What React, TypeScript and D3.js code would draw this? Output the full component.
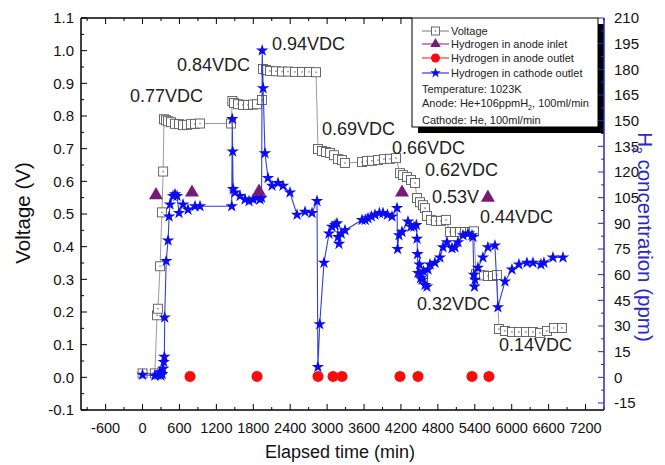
import React from 'react';
import * as d3 from 'd3';

// ---------------- data ----------------
const xTickValues = [-600, 0, 600, 1200, 1800, 2400, 3000, 3600, 4200, 4800, 5400, 6000, 6600, 7200];
const leftTickValues = [-0.1, 0.0, 0.1, 0.2, 0.3, 0.4, 0.5, 0.6, 0.7, 0.8, 0.9, 1.0, 1.1];
const rightTickValues = [-15, 0, 15, 30, 45, 60, 75, 90, 105, 120, 135, 150, 165, 180, 195, 210];

// Voltage (V) vs elapsed time (min)
const voltageSeries: [number, number][] = [
  [0, 0.012], [200, 0.012], [236, 0.19], [250, 0.21], [285, 0.34], [315, 0.505], [335, 0.63],
  [349, 0.79], [382, 0.787], [414, 0.784], [463, 0.781], [528, 0.776], [593, 0.775], [658, 0.772],
  [723, 0.773], [788, 0.775], [853, 0.776], [934, 0.777], [1440, 0.777],
  [1460, 0.846], [1487, 0.84], [1552, 0.836], [1633, 0.834], [1714, 0.834], [1796, 0.835], [1861, 0.836], [1942, 0.849],
  [1958, 0.944], [2007, 0.941], [2072, 0.938], [2169, 0.937], [2267, 0.936], [2364, 0.936], [2478, 0.935],
  [2592, 0.935], [2706, 0.935], [2820, 0.934],
  [2852, 0.699], [2917, 0.693], [2982, 0.69], [3047, 0.687], [3112, 0.68], [3177, 0.668], [3242, 0.665], [3291, 0.656],
  [3567, 0.659], [3648, 0.662], [3729, 0.663], [3827, 0.665], [3924, 0.668], [4022, 0.669], [4119, 0.671],
  [4184, 0.625], [4233, 0.619], [4298, 0.613], [4363, 0.604], [4428, 0.595],
  [4461, 0.549], [4509, 0.536], [4558, 0.527], [4591, 0.518],
  [4623, 0.494], [4688, 0.482], [4769, 0.479], [4850, 0.479], [4931, 0.482],
  [4996, 0.445], [5078, 0.445], [5159, 0.445], [5241, 0.445], [5322, 0.445], [5387, 0.447],
  [5419, 0.316], [5484, 0.313], [5549, 0.312], [5614, 0.31], [5695, 0.31], [5760, 0.313],
  [5792, 0.148], [5890, 0.142], [6004, 0.139], [6117, 0.139], [6231, 0.139], [6345, 0.139],
  [6459, 0.136], [6573, 0.142], [6686, 0.151], [6816, 0.151],
];

// Hydrogen in cathode outlet (ppm)
const cathodeOutlet: [number, number][] = [
  [0, 1.5], [200, 1], [250, 1.5], [280, 3], [300, 1], [320, 2], [335, 5], [345, 9], [355, 12],
  [360, 35], [385, 68], [415, 80], [432, 94], [447, 101], [496, 106], [528, 107], [561, 106],
  [593, 96], [658, 101], [739, 98], [853, 100], [934, 100], [1450, 100],
  [1458, 151], [1465, 132], [1472, 110], [1503, 108], [1584, 106], [1666, 104], [1731, 103],
  [1800, 104], [1861, 105], [1909, 104], [1935, 105],
  [1945, 191], [1960, 169], [1990, 131], [2039, 116.5], [2104, 112], [2202, 113.5], [2283, 112],
  [2397, 108], [2511, 95], [2641, 96.7], [2755, 96], [2836, 103],
  [2850, 6], [2880, 31], [2949, 67], [3031, 84], [3079, 88], [3130, 89], [3161, 90], [3177, 82],
  [3193, 78], [3230, 84], [3291, 86], [3567, 92], [3620, 92], [3664, 93], [3720, 94], [3778, 95],
  [3850, 96], [3908, 96], [3980, 95], [4054, 94], [4136, 99],
  [4145, 75], [4168, 83], [4217, 85], [4314, 91], [4363, 88], [4412, 88], [4450, 89], [4461, 81],
  [4470, 72], [4477, 61], [4500, 66], [4520, 58], [4542, 57], [4565, 62], [4591, 54], [4623, 53],
  [4639, 63], [4672, 66], [4753, 67], [4834, 70], [4883, 76], [4948, 79], [5030, 75.5], [5078, 76],
  [5127, 79], [5208, 83], [5289, 84], [5354, 83], [5370, 82],
  [5385, 60], [5395, 53], [5403, 57], [5451, 64], [5532, 70], [5613, 76], [5727, 77],
  [5776, 41], [5890, 56], [6004, 63], [6117, 66], [6247, 67], [6345, 67], [6475, 66], [6524, 67],
  [6670, 70], [6833, 70],
];

// Hydrogen in anode inlet (ppm)
const anodeInlet: [number, number][] = [
  [219, 106.5], [804, 108], [1893, 108.5], [4217, 108], [5613, 105],
];

// Hydrogen in anode outlet (ppm)
const anodeOutlet: [number, number][] = [
  [772, 0.5], [1861, 0.5], [2852, 0.5], [3096, 0.5], [3242, 0.5], [4184, 0.5], [4477, 0.5], [5354, 0.5], [5630, 0.5],
];

// Voltage step annotations: [time at left of text, voltage at text middle, text]
const annotations: [number, number, string][] = [
  [-203, 0.864, '0.77VDC'],
  [561, 0.959, '0.84VDC'],
  [2105, 1.023, '0.94VDC'],
  [2917, 0.763, '0.69VDC'],
  [4055, 0.702, '0.66VDC'],
  [4591, 0.637, '0.62VDC'],
  [4705, 0.552, '0.53V'],
  [5485, 0.491, '0.44VDC'],
  [4461, 0.227, '0.32VDC'],
  [5794, 0.099, '0.14VDC'],
];

// ---------------- layout ----------------
const W = 665;
const H = 465;
const L = 81, R = 604, T = 18, B = 410;
const FONT = 'Liberation Sans, Arial, Helvetica, sans-serif';
const BLUE_AXIS = '#2a2ac0';
const STAR = '#0c0cf0';
const STAR_LINE = '#3340d6';
const PURPLE = '#7a1a78';
const RED = '#ff0a0a';

export default function App() {
  const x = d3.scaleLinear().domain([-1000, 7500]).range([L, R]);
  const yV = d3.scaleLinear().domain([-0.1, 1.1]).range([B, T]);
  const ppmPerVolt = 210 / 1.1;
  const yP = d3.scaleLinear().domain([-0.1 * ppmPerVolt, 210]).range([B, T]);

  const xMinor = d3.range(-900, 7501, 600);
  const vMinor = d3.range(-0.05, 1.1, 0.1);
  const pMinor = d3.range(-7.5, 210, 15);

  const vLine = d3.line<[number, number]>().x(d => x(d[0])).y(d => yV(d[1]))(voltageSeries) || '';
  const sLine = d3.line<[number, number]>().x(d => x(d[0])).y(d => yP(d[1]))(cathodeOutlet) || '';
  const starPath = d3.symbol().type(d3.symbolStar).size(48)() || '';
  const triPath = d3.symbol().type(d3.symbolTriangle).size(85)() || '';
  const legStar = d3.symbol().type(d3.symbolStar).size(34)() || '';
  const legTri = d3.symbol().type(d3.symbolTriangle).size(48)() || '';

  const square = (cx: number, cy: number, key: string | number, s = 9) => (
    <g key={key}>
      <rect x={cx - s / 2} y={cy - s / 2} width={s} height={s} fill="#fff" stroke="#5a5a5a" strokeWidth={0.9} />
      <rect x={cx - 0.75} y={cy - 0.75} width={1.5} height={1.5} fill="#888" />
    </g>
  );

  // legend geometry
  const lgX = 412, lgY = T, lgW = 186, lgH = 109;
  const rows = [31, 44, 58, 73];

  return (
    <svg width={W} height={H} style={{ position: 'absolute', left: 0, top: 0, background: '#fff' }} fontFamily={FONT}>
      <rect x={0} y={0} width={W} height={H} fill="#fff" />

      {/* series: voltage */}
      <path d={vLine} fill="none" stroke="#9a9a9a" strokeWidth={1} />
      {voltageSeries.map((d, i) => square(x(d[0]), yV(d[1]), 'v' + i))}

      {/* series: cathode outlet */}
      <path d={sLine} fill="none" stroke={STAR_LINE} strokeWidth={1.1} />
      {cathodeOutlet.map((d, i) => (
        <path key={'s' + i} d={starPath} transform={`translate(${x(d[0])},${yP(d[1])})`} fill={STAR} />
      ))}

      {/* anode inlet */}
      {anodeInlet.map((d, i) => (
        <path key={'t' + i} d={triPath} transform={`translate(${x(d[0])},${yP(d[1])})`} fill={PURPLE} />
      ))}
      {/* anode outlet */}
      {anodeOutlet.map((d, i) => (
        <circle key={'c' + i} cx={x(d[0])} cy={yP(d[1])} r={5.5} fill={RED} />
      ))}

      {/* annotations */}
      {annotations.map((a, i) => (
        <text key={'a' + i} x={x(a[0])} y={yV(a[1])} dy="0.36em" fontSize={18} fill="#222">{a[2]}</text>
      ))}

      {/* bottom & top ticks */}
      {xTickValues.map(v => (
        <g key={'xt' + v}>
          <line x1={x(v)} x2={x(v)} y1={B} y2={B - 6} stroke="#000" strokeWidth={1} />
          <line x1={x(v)} x2={x(v)} y1={T} y2={T + 6} stroke="#000" strokeWidth={1} />
          <text x={x(v)} y={B + 23} textAnchor="middle" fontSize={14.5} fill="#111">{String(v)}</text>
        </g>
      ))}
      {xMinor.map(v => (
        <g key={'xm' + v}>
          <line x1={x(v)} x2={x(v)} y1={B} y2={B - 3} stroke="#000" strokeWidth={1} />
          <line x1={x(v)} x2={x(v)} y1={T} y2={T + 3} stroke="#000" strokeWidth={1} />
        </g>
      ))}

      {/* left ticks */}
      {leftTickValues.map(v => (
        <g key={'lt' + v}>
          <line x1={L} x2={L + 6} y1={yV(v)} y2={yV(v)} stroke="#000" strokeWidth={1} />
          <text x={L - 7} y={yV(v)} dy="0.36em" textAnchor="end" fontSize={15} fill="#111">{v.toFixed(1)}</text>
        </g>
      ))}
      {vMinor.map(v => (
        <line key={'lm' + v} x1={L} x2={L + 3} y1={yV(v)} y2={yV(v)} stroke="#000" strokeWidth={1} />
      ))}

      {/* legend */}
      <rect x={lgX + 6} y={lgY + 6} width={lgW} height={lgH} fill="#000" />
      <rect x={lgX} y={lgY} width={lgW} height={lgH} fill="#fff" stroke="#000" strokeWidth={1} />
      <g fontSize={11} fill="#222">
        <line x1={422} x2={449} y1={rows[0]} y2={rows[0]} stroke="#777" strokeWidth={1} />
        {square(435.5, rows[0], 'lg0', 8)}
        <text x={451} y={rows[0]} dy="0.36em">Voltage</text>

        <line x1={422} x2={449} y1={rows[1]} y2={rows[1]} stroke={PURPLE} strokeWidth={1} />
        <path d={legTri} transform={`translate(435.5,${rows[1]})`} fill={PURPLE} />
        <text x={451} y={rows[1]} dy="0.36em">Hydrogen in anode inlet</text>

        <line x1={422} x2={449} y1={rows[2]} y2={rows[2]} stroke={RED} strokeWidth={1} />
        <circle cx={435.5} cy={rows[2]} r={4.5} fill={RED} />
        <text x={451} y={rows[2]} dy="0.36em">Hydrogen in anode outlet</text>

        <line x1={422} x2={449} y1={rows[3]} y2={rows[3]} stroke={STAR} strokeWidth={1} />
        <path d={legStar} transform={`translate(435.5,${rows[3]})`} fill={STAR} />
        <text x={451} y={rows[3]} dy="0.36em">Hydrogen in cathode outlet</text>

        <text x={422} y={89} dy="0.36em">Temperature: 1023K</text>
        <text x={422} y={103} dy="0.36em">Anode: He+106ppmH<tspan dy={3} fontSize={7}>2</tspan><tspan dy={-3}>, 100ml/min</tspan></text>
        <text x={422} y={120} dy="0.36em">Cathode: He, 100ml/min</text>
      </g>

      {/* right ticks */}
      {rightTickValues.map(v => (
        <g key={'rt' + v}>
          <line x1={R} x2={R - 6} y1={yP(v)} y2={yP(v)} stroke={BLUE_AXIS} strokeWidth={1} />
          <text x={R + 10} y={yP(v)} dy="0.36em" textAnchor="start" fontSize={15} fill="#111">{String(v)}</text>
        </g>
      ))}
      {pMinor.map(v => (
        <line key={'rm' + v} x1={R} x2={R - 3} y1={yP(v)} y2={yP(v)} stroke={BLUE_AXIS} strokeWidth={1} />
      ))}

      {/* frame */}
      <line x1={L} x2={R} y1={B} y2={B} stroke="#000" strokeWidth={1.5} />
      <line x1={L} x2={lgX} y1={T} y2={T} stroke="#000" strokeWidth={1.5} />
      <line x1={L} x2={L} y1={T} y2={B} stroke="#000" strokeWidth={1.5} />
      <line x1={R} x2={R} y1={T} y2={B} stroke={BLUE_AXIS} strokeWidth={1.5} />

      {/* axis titles */}
      <text x={340} y={458} textAnchor="middle" fontSize={18} fill="#111">Elapsed time (min)</text>
      <text transform="translate(30,213) rotate(-90)" textAnchor="middle" fontSize={20.5} fill="#111">Voltage (V)</text>
      <text transform="translate(638,237) rotate(90)" textAnchor="middle" fontSize={20.5} fill={BLUE_AXIS}>
        H<tspan dy={5} fontSize={12}>2</tspan><tspan dy={-5}> concentration (ppm)</tspan>
      </text>
    </svg>
  );
}
